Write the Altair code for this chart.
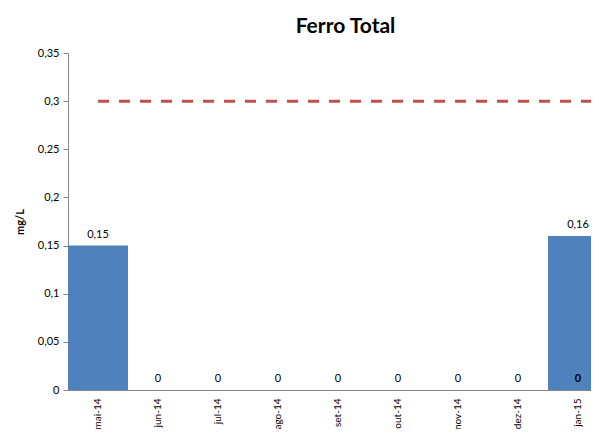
import altair as alt
import pandas as pd

months = ["mai-14", "jun-14", "jul-14", "ago-14", "set-14", "out-14", "nov-14", "dez-14", "jan-15"]
values = [0.15, 0, 0, 0, 0, 0, 0, 0, 0.16]
limit_value = 0.3
extra_label_months = ["jan-15"]
extra_label_values = [0]
y_ticks = [0, 0.05, 0.1, 0.15, 0.2, 0.25, 0.3, 0.35]

df = pd.DataFrame({"month": months, "value": values})
df_limit = pd.DataFrame({"month": [months[0]], "limit": [limit_value]})
df_extra = pd.DataFrame({"month": extra_label_months, "value": extra_label_values})

FONT = "Lato"
xscale = alt.Scale(domain=months, range=[0, 540], paddingInner=0, paddingOuter=0)
yscale = alt.Scale(domain=[0, 0.35], nice=False)

x_enc = alt.X("month:N", scale=xscale, sort=months, title=None,
              axis=alt.Axis(labelAngle=-90, labelFontSize=10, labelPadding=8,
                            ticks=False, domainColor="#868686", labelColor="#000000",
                            labelFont=FONT, labelBaseline="middle"))
y_enc = alt.Y("value:Q", scale=yscale, title="mg/L",
              axis=alt.Axis(values=y_ticks, grid=False, domainColor="#868686",
                            tickColor="#868686", tickSize=5, labelFontSize=11,
                            labelFont=FONT, labelColor="#000000", labelPadding=4,
                            labelExpr="replace(format(datum.value, '.2~f'), '.', ',')",
                            titleFont=FONT, titleFontSize=11, titleFontWeight="bold",
                            titlePadding=12, titleColor="#000000"))

base = alt.Chart(df)

bars = base.mark_bar(color="#4F81BD", clip=True).encode(x=x_enc, y=y_enc)

labels = base.transform_calculate(
    lab="replace(format(datum.value, '.2~f'), '.', ',')"
).mark_text(baseline="bottom", dy=-6, fontSize=11, font=FONT, color="#000000").encode(
    x=alt.X("month:N", scale=xscale, sort=months),
    y=alt.Y("value:Q", scale=yscale),
    text="lab:N",
)

extra = alt.Chart(df_extra).transform_calculate(
    lab="replace(format(datum.value, '.2~f'), '.', ',')"
).mark_text(baseline="bottom", dy=-6, fontSize=11, font=FONT, fontWeight="bold", color="#000000").encode(
    x=alt.X("month:N", scale=xscale, sort=months),
    y=alt.Y("value:Q", scale=yscale),
    text="lab:N",
)

limit = alt.Chart(df_limit).mark_rule(color="#C0504D", strokeWidth=3, strokeDash=[11, 10], clip=True).encode(
    x=alt.X("month:N", scale=xscale, sort=months, bandPosition=0.5),
    x2=alt.value(560),
    y=alt.Y("limit:Q", scale=yscale),
)

chart = alt.layer(bars, limit, labels, extra).properties(
    width=523, height=337,
    autosize=alt.AutoSizeParams(type="none"),
    padding={"left": 60, "top": 45, "right": 0, "bottom": 39},
    title=alt.TitleParams("Ferro Total", font=FONT, fontSize=21, fontWeight="bold",
                          color="#000000", anchor="middle", dx=16, offset=10),
).configure_view(stroke=None)

chart.save("out.html", embed_options={"renderer": "svg", "actions": False})
